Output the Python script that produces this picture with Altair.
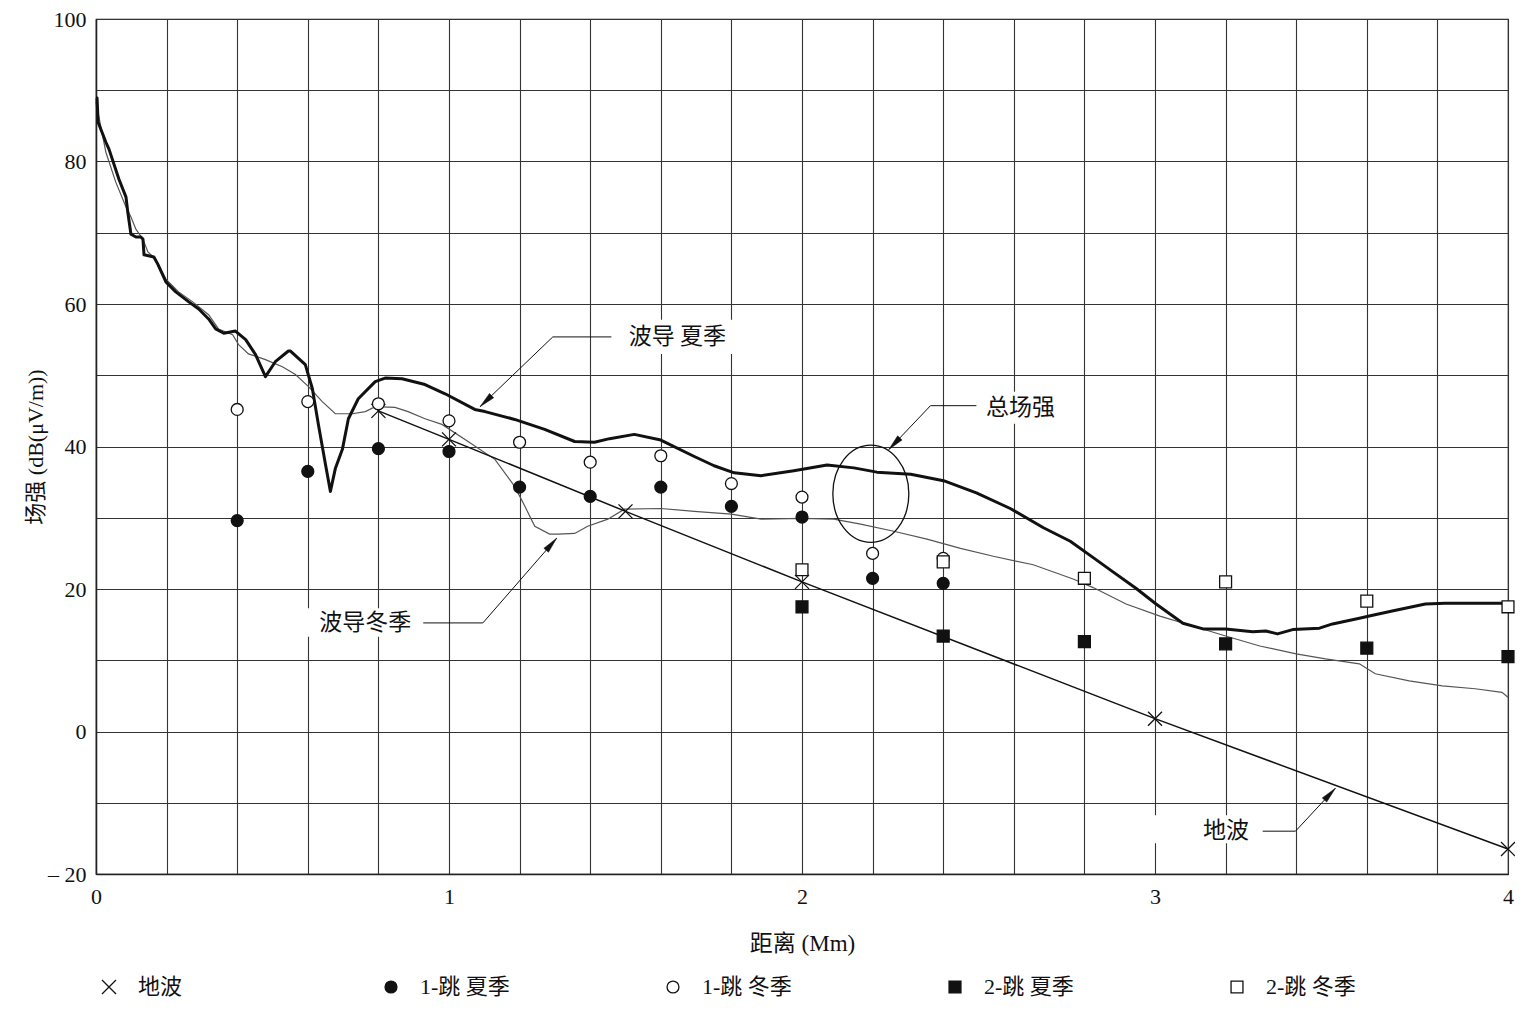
import math
import altair as alt
import pandas as pd

# ---------------- data ----------------
names = ["地波", "1-跳 夏季", "1-跳 冬季", "2-跳 夏季", "2-跳 冬季"]

gw_x = [0.8, 1.0, 1.5, 2.0, 3.0, 4.0]
gw_y = [45.0, 41.0, 30.9, 21.0, 1.8, -16.5]

hop1_x = [0.4, 0.6, 0.8, 1.0, 1.2, 1.4, 1.6, 1.8, 2.0, 2.2, 2.4]
hop1_summer = [29.6, 36.5, 39.7, 39.3, 34.3, 33.0, 34.3, 31.6, 30.1, 21.5, 20.8]
hop1_winter = [45.2, 46.3, 46.0, 43.6, 40.6, 37.8, 38.7, 34.8, 32.9, 25.0, 24.3]

hop2_x = [2.0, 2.4, 2.8, 3.2, 3.6, 4.0]
hop2_summer = [17.5, 13.4, 12.6, 12.3, 11.7, 10.5]
hop2_winter = [22.7, 23.8, 21.5, 21.0, 18.3, 17.5]

wg_summer_x = [0.0, 0.003, 0.006, 0.028, 0.037, 0.065, 0.085, 0.090, 0.099, 0.113,
               0.127, 0.133, 0.136, 0.164, 0.175, 0.198, 0.226, 0.263, 0.291, 0.319,
               0.339, 0.362, 0.395, 0.424, 0.452, 0.480, 0.508, 0.545, 0.551, 0.593,
               0.613, 0.630, 0.650, 0.664, 0.678, 0.698, 0.715, 0.743, 0.791, 0.819,
               0.867, 0.932, 0.989, 1.073, 1.102, 1.186, 1.271, 1.356, 1.412, 1.455,
               1.525, 1.600, 1.695, 1.751, 1.808, 1.884, 1.977, 2.071, 2.147, 2.212,
               2.308, 2.401, 2.494, 2.590, 2.684, 2.760, 2.825, 2.881, 2.946, 3.003,
               3.079, 3.136, 3.200, 3.277, 3.314, 3.347, 3.390, 3.466, 3.503, 3.579,
               3.607, 3.672, 3.766, 3.822, 3.983, 4.0]
wg_summer_y = [88.9, 88.9, 85.5, 82.7, 81.7, 77.5, 75.0, 72.9, 69.8, 69.4,
               69.4, 69.1, 66.9, 66.6, 65.6, 63.1, 61.7, 60.3, 59.3, 57.9,
               56.5, 55.9, 56.2, 55.0, 52.9, 49.8, 51.9, 53.4, 53.4, 51.5,
               48.1, 43.1, 37.5, 33.7, 36.9, 39.6, 43.9, 46.7, 49.1, 49.6,
               49.5, 48.7, 47.4, 45.2, 44.9, 43.8, 42.4, 40.7, 40.6, 41.1,
               41.7, 40.9, 38.6, 37.3, 36.3, 35.9, 36.6, 37.4, 37.0, 36.4,
               36.1, 35.2, 33.5, 31.3, 28.6, 26.7, 24.4, 22.4, 20.1, 17.9,
               15.2, 14.4, 14.4, 14.0, 14.1, 13.7, 14.3, 14.5, 15.1, 15.9,
               16.2, 16.9, 17.9, 18.0, 18.0, 17.3]

wg_winter_x = [0.0, 0.028, 0.056, 0.085, 0.099, 0.113, 0.133, 0.147, 0.169, 0.198,
               0.234, 0.274, 0.319, 0.347, 0.387, 0.404, 0.432, 0.480, 0.528, 0.565,
               0.602, 0.641, 0.678, 0.726, 0.763, 0.791, 0.847, 0.884, 0.932, 0.980,
               1.054, 1.130, 1.186, 1.215, 1.243, 1.285, 1.308, 1.356, 1.393, 1.450,
               1.497, 1.600, 1.695, 1.800, 1.884, 2.000, 2.090, 2.166, 2.260, 2.354,
               2.449, 2.542, 2.655, 2.768, 2.825, 2.918, 3.014, 3.107, 3.200, 3.297,
               3.400, 3.483, 3.579, 3.624, 3.720, 3.814, 3.907, 3.983, 4.0]
wg_winter_y = [88.3, 81.3, 77.1, 73.6, 72.2, 70.5, 69.1, 67.3, 66.3, 63.5,
               61.7, 60.3, 58.5, 56.5, 55.7, 54.3, 53.0, 52.2, 51.2, 50.1,
               48.4, 46.3, 44.6, 44.6, 44.9, 45.6, 45.5, 44.9, 43.9, 43.1,
               40.7, 38.2, 34.4, 31.6, 28.8, 27.7, 27.7, 27.8, 28.8, 29.8,
               31.2, 31.3, 30.9, 30.5, 29.8, 29.9, 29.8, 29.1, 28.1, 27.0,
               25.7, 24.6, 23.4, 21.4, 20.2, 17.9, 16.2, 14.8, 13.4, 12.0,
               10.9, 10.2, 9.5, 8.1, 7.1, 6.4, 6.0, 5.5, 4.8]

# annotations: label, text position, leader polyline (start, corner, tip)
ann_labels = ["波导 夏季", "总场强", "波导冬季", "地波"]
ann_text_x = [1.647, 2.619, 0.763, 3.201]
ann_text_y = [55.38, 45.45, 15.24, -13.99]
ann_lead_x = [[1.460, 1.294, 1.088], [2.494, 2.364, 2.246], [0.927, 1.096, 1.305], [3.305, 3.398, 3.511]]
ann_lead_y = [[55.38, 55.38, 45.59], [45.73, 45.73, 39.58], [15.24, 15.24, 27.13], [-13.99, -13.99, -7.97]]
box_x = [1.475, 2.50, 0.579, 2.966]
box_x2 = [1.814, 2.734, 0.918, 3.299]
box_y = [53.0, 43.2, 13.3, -15.7]
box_y2 = [57.8, 47.7, 17.3, -11.75]
ellipse_x = [2.195]
ellipse_y = [33.36]

# ---------------- layout constants ----------------
W, H = 1412, 855
XMIN, XMAX, YMIN, YMAX = 0, 4, -20, 100
SX = W / (XMAX - XMIN)
SY = H / (YMAX - YMIN)

SERIF = "Liberation Serif, Noto Sans CJK SC"
SANS = "Noto Sans CJK SC"
INK = "#111111"

CROSS = "M-1,-1L1,1M-1,1L1,-1"
CIRC = "M-0.85,0A0.85,0.85 0 1,0 0.85,0A0.85,0.85 0 1,0 -0.85,0Z"
SQR = "M-0.85,-0.85L0.85,-0.85L0.85,0.85L-0.85,0.85Z"
ARROW = "M0,0L0.38,2L-0.38,2Z"
ELLIPSE = "M-1,0A1,1.28 0 1,1 1,0A1,1.28 0 1,1 -1,0Z"

# ---------------- tables ----------------
markers = pd.DataFrame(
    [{"series": names[0], "x": a, "y": b} for a, b in zip(gw_x, gw_y)]
    + [{"series": names[1], "x": a, "y": b} for a, b in zip(hop1_x, hop1_summer)]
    + [{"series": names[2], "x": a, "y": b} for a, b in zip(hop1_x, hop1_winter)]
    + [{"series": names[3], "x": a, "y": b} for a, b in zip(hop2_x, hop2_summer)]
    + [{"series": names[4], "x": a, "y": b} for a, b in zip(hop2_x, hop2_winter)]
)
gw_df = pd.DataFrame({"x": gw_x, "y": gw_y})
summer_df = pd.DataFrame({"x": wg_summer_x, "y": wg_summer_y, "o": range(len(wg_summer_x))})
winter_df = pd.DataFrame({"x": wg_winter_x, "y": wg_winter_y, "o": range(len(wg_winter_x))})

text_df = pd.DataFrame({"label": ann_labels, "x": ann_text_x, "y": ann_text_y})
lead_rows = []
arrow_rows = []
for g, (lx, ly) in enumerate(zip(ann_lead_x, ann_lead_y)):
    for k, (a, b) in enumerate(zip(lx, ly)):
        lead_rows.append({"g": g, "o": k, "x": a, "y": b})
    dxp = (lx[2] - lx[1]) * SX
    dyp = -(ly[2] - ly[1]) * SY
    ang = math.degrees(math.atan2(dxp, -dyp)) % 360
    arrow_rows.append({"x": lx[2], "y": ly[2], "ang": ang})
lead_df = pd.DataFrame(lead_rows)
arrow_df = pd.DataFrame(arrow_rows)
box_df = pd.DataFrame({"x": box_x, "x2": box_x2, "y": box_y, "y2": box_y2})
ell_df = pd.DataFrame({"x": ellipse_x, "y": ellipse_y})

# ---------------- scales / axes ----------------
xticks = [round(i * 0.2, 1) for i in range(21)]
yticks = list(range(-20, 101, 10))

xscale = alt.Scale(domain=[XMIN, XMAX], nice=False, zero=False)
yscale = alt.Scale(domain=[YMIN, YMAX], nice=False, zero=False)

xaxis = alt.Axis(
    values=xticks,
    labelExpr="abs(datum.value - round(datum.value)) < 0.001 ? format(datum.value, 'd') : ''",
    grid=True, gridColor="#333333", gridWidth=1.1, ticks=False,
    domainColor="#222222", domainWidth=1.5,
    labelFont=SERIF, labelFontSize=22, labelColor=INK, labelPadding=12,
    labelFlush=False, labelOverlap=False,
    title="距离 (Mm)", titleFont=SERIF, titleFontSize=23, titleFontWeight="normal",
    titleColor=INK, titleX=W / 2, titleY=69, titleBaseline="middle", titleAlign="center",
)
yaxis = alt.Axis(
    values=yticks,
    labelExpr="datum.value % 20 == 0 ? (datum.value < 0 ? '– ' + abs(datum.value) : '' + datum.value) : ''",
    grid=True, gridColor="#333333", gridWidth=1.1, ticks=False,
    domainColor="#222222", domainWidth=1.5,
    labelFont=SERIF, labelFontSize=22, labelColor=INK, labelPadding=10,
    labelFlush=False, labelOverlap=False,
    title="场强 (dB(μV/m))", titleFont=SERIF, titleFontSize=22, titleFontWeight="normal",
    titleColor=INK, titleX=-61, titleY=H / 2, titleAngle=270,
    titleBaseline="middle", titleAlign="center",
)

X = alt.X("x:Q", scale=xscale, axis=xaxis)
Y = alt.Y("y:Q", scale=yscale, axis=yaxis)
Xn = alt.X("x:Q", scale=xscale)
Yn = alt.Y("y:Q", scale=yscale)

# ---------------- layers ----------------
boxes = alt.Chart(box_df).mark_rect(fill="white", stroke=None).encode(
    x=X, x2="x2:Q", y=Y, y2="y2:Q"
)

winter_line = alt.Chart(winter_df).mark_line(color="#555555", strokeWidth=1.2).encode(
    x=Xn, y=Yn, order="o:Q"
)
summer_line = alt.Chart(summer_df).mark_line(color=INK, strokeWidth=3, strokeJoin="round").encode(
    x=Xn, y=Yn, order="o:Q"
)
gw_line = alt.Chart(gw_df).mark_line(color=INK, strokeWidth=1.5).encode(x=Xn, y=Yn)

leg = alt.Legend(
    title=None, orient="none", legendX=2, legendY=957, direction="horizontal",
    columns=5, gridAlign="all", columnPadding=152, padding=0,
    symbolSize=196, symbolStrokeWidth=1.3, labelOffset=18,
    labelFont=SERIF, labelFontSize=22, labelColor=INK, labelLimit=300,
)
marker_layer = alt.Chart(markers).mark_point(opacity=1, size=196, strokeWidth=1.3).encode(
    x=Xn, y=Yn,
    shape=alt.Shape("series:N", scale=alt.Scale(domain=names, range=[CROSS, CIRC, CIRC, SQR, SQR]),
                    legend=leg, sort=names),
    fill=alt.Fill("series:N", scale=alt.Scale(domain=names, range=["transparent", INK, "white", INK, "white"]),
                  legend=leg, sort=names),
    stroke=alt.Stroke("series:N", scale=alt.Scale(domain=names, range=[INK, INK, INK, INK, INK]),
                      legend=leg, sort=names),
)

ellipse = alt.Chart(ell_df).mark_point(
    shape=ELLIPSE, size=5776, filled=False, stroke=INK, strokeWidth=1.3, opacity=1
).encode(x=Xn, y=Yn)

leaders = alt.Chart(lead_df).mark_line(color=INK, strokeWidth=1).encode(
    x=Xn, y=Yn, detail="g:N", order="o:Q"
)
arrows = alt.Chart(arrow_df).mark_point(
    shape=ARROW, size=256, filled=True, fill=INK, stroke=INK, strokeWidth=0.5, opacity=1
).encode(x=Xn, y=Yn, angle=alt.Angle("ang:Q", scale=None))

texts = alt.Chart(text_df).mark_text(
    font=SANS, fontSize=23, color=INK, align="center", baseline="middle"
).encode(x=Xn, y=Yn, text="label:N")

chart = alt.layer(
    boxes, winter_line, summer_line, gw_line, marker_layer, ellipse, leaders, arrows, texts
).properties(
    width=W, height=H,
    padding={"left": 88, "top": 11, "right": 7, "bottom": 130},
    autosize=alt.AutoSizeParams(type="none"),
    background="white",
).configure_view(stroke="#222222", strokeWidth=1.2)

chart.save("out.html", embed_options={"renderer": "svg", "actions": False})
